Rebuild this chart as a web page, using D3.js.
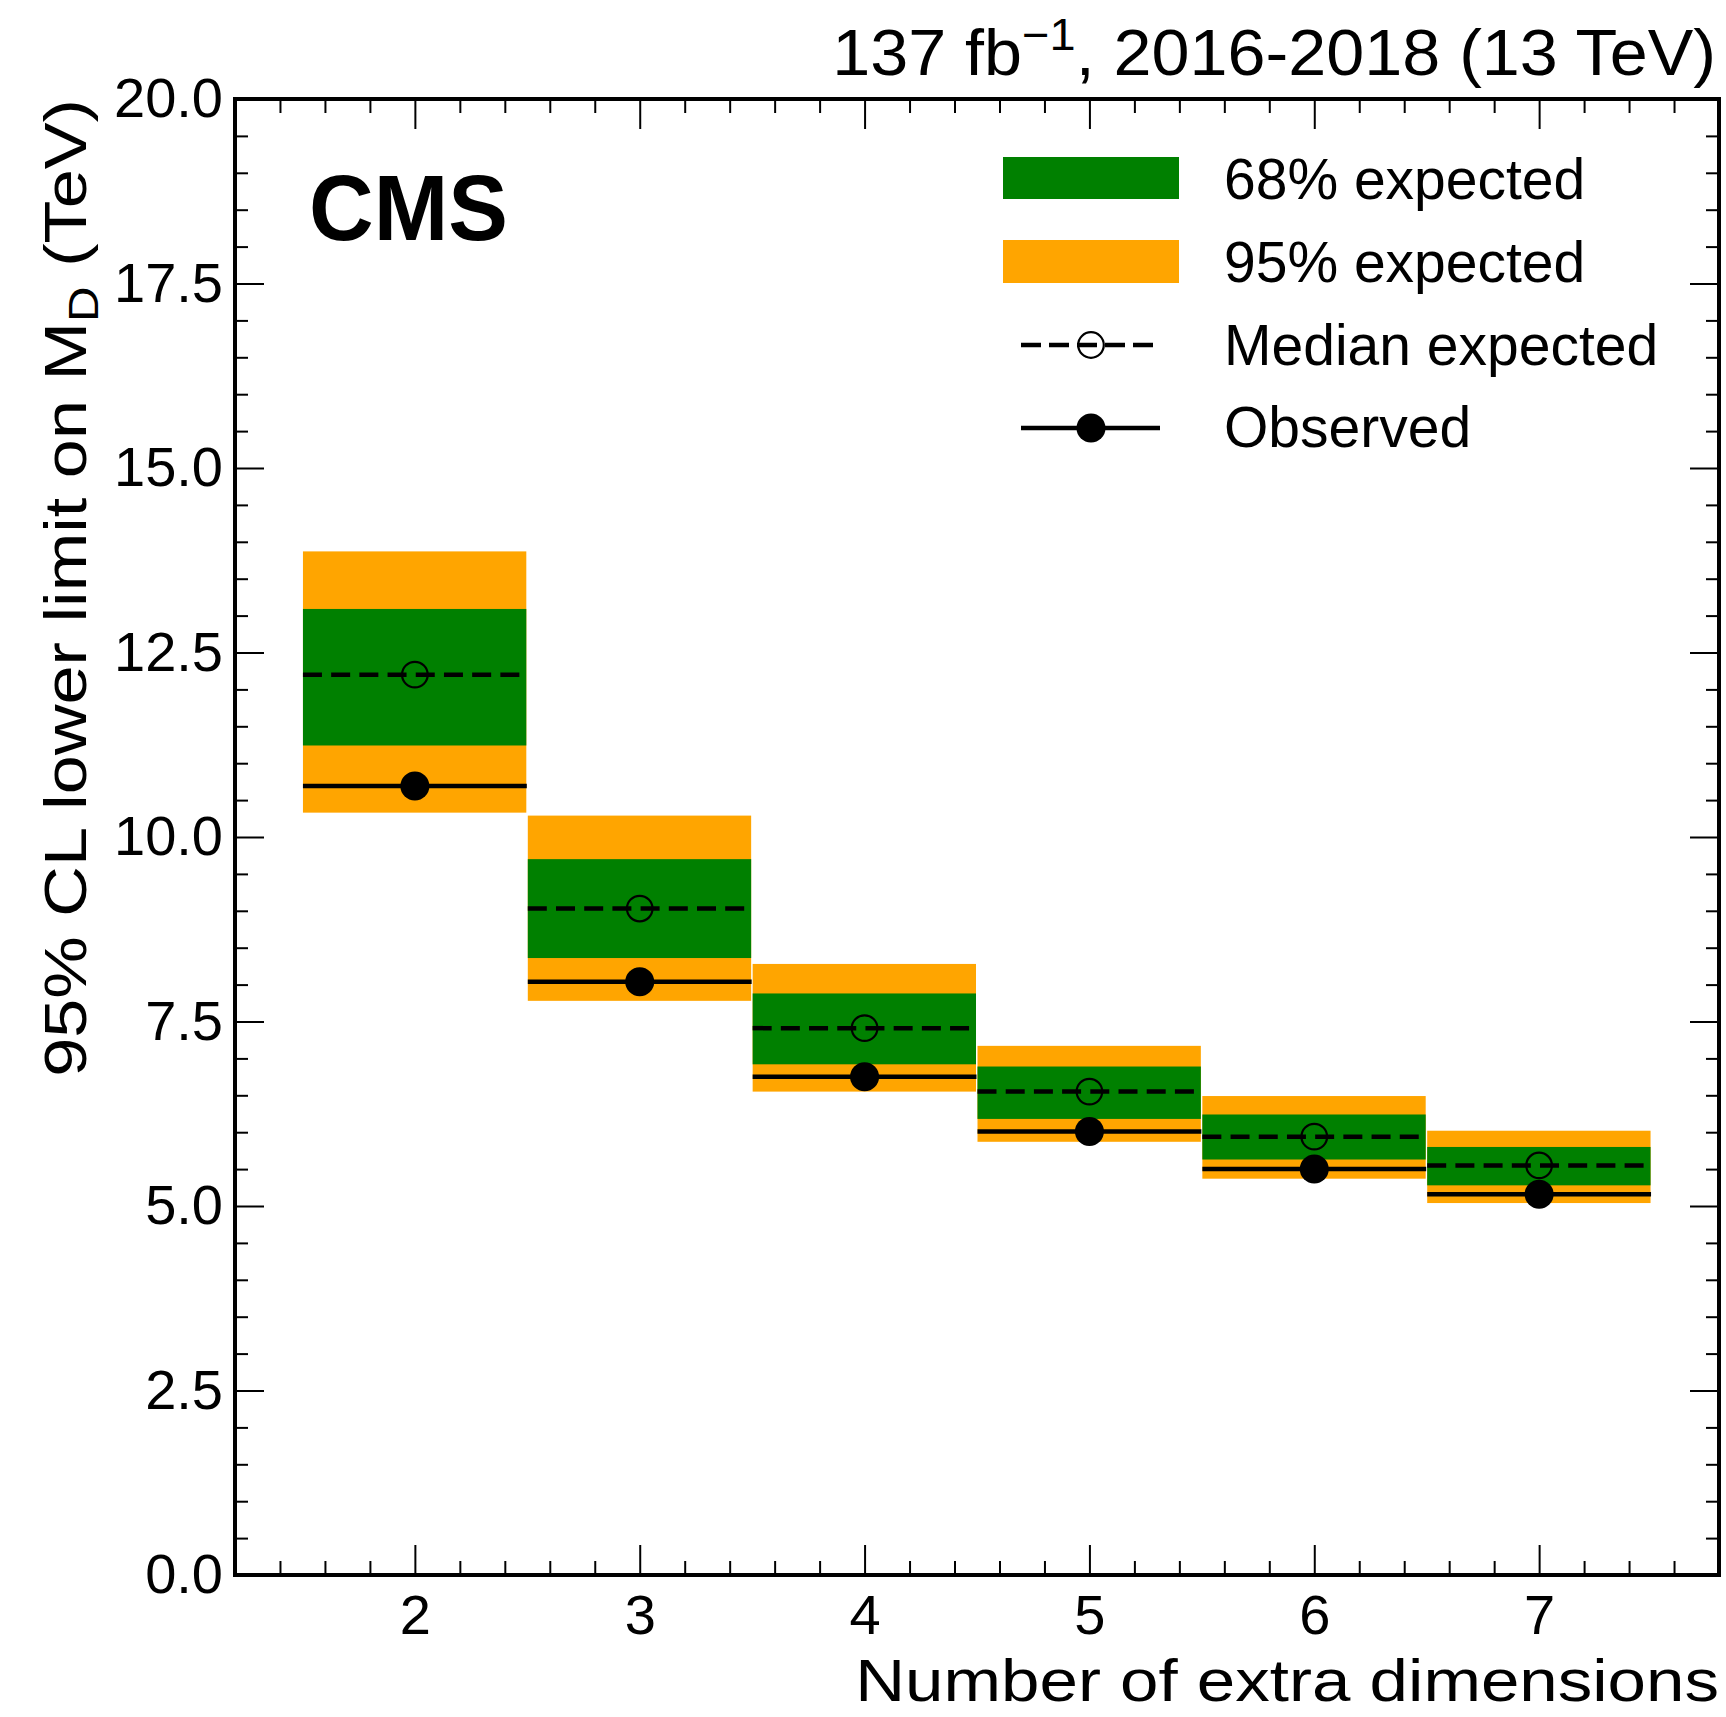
<!DOCTYPE html>
<html>
<head>
<meta charset="utf-8">
<script src="https://cdn.jsdelivr.net/npm/d3@7"></script>
<style>
  html, body { margin: 0; padding: 0; background: #fff; }
  svg { display: block; }
  text { font-family: "Liberation Sans", Arial, Helvetica, sans-serif; fill: #000; }
</style>
</head>
<body>
<svg id="chart" width="1726" height="1717"></svg>
<script>
// Number of extra dimensions (one bin per value)
const dims = [2, 3, 4, 5, 6, 7];
// 95% CL lower limits on M_D in TeV
const observed = [10.69, 8.04, 6.75, 6.01, 5.50, 5.16];
const expected = [12.20, 9.03, 7.41, 6.55, 5.94, 5.55];
const exp68Lo  = [11.24, 8.36, 6.92, 6.18, 5.63, 5.28];
const exp68Hi  = [13.09, 9.70, 7.88, 6.89, 6.24, 5.80];
const exp95Lo  = [10.33, 7.78, 6.55, 5.87, 5.37, 5.04];
const exp95Hi  = [13.87, 10.29, 8.28, 7.17, 6.49, 6.02];

// Axis ticks and labels
const xMajorTicks = [2, 3, 4, 5, 6, 7];
const yMajorTicks = [0, 2.5, 5, 7.5, 10, 12.5, 15, 17.5, 20];
const legendLabels = ["68% expected", "95% expected", "Median expected", "Observed"];

const GREEN = "#008000", ORANGE = "#ffa500";

const svg = d3.select("#chart");
svg.append("rect").attr("width", 1726).attr("height", 1717).attr("fill", "#fff");

const plotL = 235, plotR = 1719, plotT = 99, plotB = 1575;
const x = d3.scaleLinear().domain([1.2, 7.8]).range([plotL, plotR]);
const y = d3.scaleLinear().domain([0, 20]).range([plotB, plotT]);

const xMinorTicks = d3.range(14, 78, 2).map(v => v / 10).filter(v => !xMajorTicks.includes(v));
const yMinorTicks = d3.range(0, 41).map(v => v / 2).filter(v => !yMajorTicks.includes(v));

const bins = dims.map((d, i) => ({
  d, lo: d - 0.5, hi: d + 0.5,
  obs: observed[i], exp: expected[i],
  l68: exp68Lo[i], h68: exp68Hi[i], l95: exp95Lo[i], h95: exp95Hi[i]
}));

// Uncertainty bands
const bands = svg.append("g");
bands.selectAll("rect.b95").data(bins).join("rect")
  .attr("class", "b95")
  .attr("x", b => x(b.lo) + 0.5)
  .attr("width", b => x(b.hi) - x(b.lo) - 1.5)
  .attr("y", b => y(b.h95))
  .attr("height", b => y(b.l95) - y(b.h95))
  .attr("fill", ORANGE);
bands.selectAll("rect.b68").data(bins).join("rect")
  .attr("class", "b68")
  .attr("x", b => x(b.lo) + 0.5)
  .attr("width", b => x(b.hi) - x(b.lo) - 1.5)
  .attr("y", b => y(b.h68))
  .attr("height", b => y(b.l68) - y(b.h68))
  .attr("fill", GREEN);

// Median expected (dashed) and observed (solid) per bin, with markers
const lines = svg.append("g");
lines.selectAll("line.exp").data(bins).join("line")
  .attr("class", "exp")
  .attr("x1", b => x(b.lo) + 0.5).attr("x2", b => x(b.hi) - 0.5)
  .attr("y1", b => y(b.exp)).attr("y2", b => y(b.exp))
  .attr("stroke", "#000").attr("stroke-width", 4.5)
  .attr("stroke-dasharray", "19,9.2");
lines.selectAll("line.obs").data(bins).join("line")
  .attr("class", "obs")
  .attr("x1", b => x(b.lo) + 0.5).attr("x2", b => x(b.hi) - 0.5)
  .attr("y1", b => y(b.obs)).attr("y2", b => y(b.obs))
  .attr("stroke", "#000").attr("stroke-width", 4.5);

lines.selectAll("circle.exp").data(bins).join("circle")
  .attr("class", "exp")
  .attr("cx", b => x(b.d)).attr("cy", b => y(b.exp))
  .attr("r", 12.8).attr("fill", "none")
  .attr("stroke", "#000").attr("stroke-width", 2.2);
lines.selectAll("circle.obs").data(bins).join("circle")
  .attr("class", "obs")
  .attr("cx", b => x(b.d)).attr("cy", b => y(b.obs))
  .attr("r", 14.5).attr("fill", "#000");

// Axes: ticks on all four sides, pointing inward
function styleAxis(g, fontSize) {
  g.select(".domain").remove();
  g.selectAll("line").attr("stroke", "#000").attr("stroke-width", 2);
  g.attr("font-family", null).attr("font-size", fontSize);
  g.selectAll("text").attr("fill", "#000");
}
const noLabel = () => "";

svg.append("g").attr("transform", `translate(0,${plotB})`)
  .call(d3.axisBottom(x).tickValues(xMajorTicks).tickSize(-30).tickSizeOuter(0)
        .tickPadding(19).tickFormat(d3.format("d")))
  .call(g => styleAxis(g, 56));
svg.append("g").attr("transform", `translate(0,${plotB})`)
  .call(d3.axisBottom(x).tickValues(xMinorTicks).tickSize(-14).tickSizeOuter(0).tickFormat(noLabel))
  .call(g => styleAxis(g, 10));
svg.append("g").attr("transform", `translate(0,${plotT})`)
  .call(d3.axisTop(x).tickValues(xMajorTicks).tickSize(-30).tickSizeOuter(0).tickFormat(noLabel))
  .call(g => styleAxis(g, 10));
svg.append("g").attr("transform", `translate(0,${plotT})`)
  .call(d3.axisTop(x).tickValues(xMinorTicks).tickSize(-14).tickSizeOuter(0).tickFormat(noLabel))
  .call(g => styleAxis(g, 10));

svg.append("g").attr("transform", `translate(${plotL},0)`)
  .call(d3.axisLeft(y).tickValues(yMajorTicks).tickSize(-29).tickSizeOuter(0)
        .tickPadding(12).tickFormat(d3.format(".1f")))
  .call(g => styleAxis(g, 56));
svg.append("g").attr("transform", `translate(${plotL},0)`)
  .call(d3.axisLeft(y).tickValues(yMinorTicks).tickSize(-13).tickSizeOuter(0).tickFormat(noLabel))
  .call(g => styleAxis(g, 10));
svg.append("g").attr("transform", `translate(${plotR},0)`)
  .call(d3.axisRight(y).tickValues(yMajorTicks).tickSize(-29).tickSizeOuter(0).tickFormat(noLabel))
  .call(g => styleAxis(g, 10));
svg.append("g").attr("transform", `translate(${plotR},0)`)
  .call(d3.axisRight(y).tickValues(yMinorTicks).tickSize(-13).tickSizeOuter(0).tickFormat(noLabel))
  .call(g => styleAxis(g, 10));

// Frame
svg.append("rect")
  .attr("x", plotL).attr("y", plotT)
  .attr("width", plotR - plotL).attr("height", plotB - plotT)
  .attr("fill", "none").attr("stroke", "#000").attr("stroke-width", 4);

// Scale a text horizontally so its advance spans the given width
function spanWidth(sel, width) {
  const natural = sel.node().getComputedTextLength();
  sel.attr("transform", sel.attr("transform") + ` scale(${width / natural},1)`);
}

// Axis titles
const xTitle = svg.append("text")
  .attr("transform", `translate(${plotR},1701)`)
  .attr("text-anchor", "end").attr("font-size", 60)
  .text("Number of extra dimensions");
spanWidth(xTitle, 864);

const yTitle = svg.append("text")
  .attr("transform", `translate(86,${plotT}) rotate(-90)`)
  .attr("text-anchor", "end").attr("font-size", 60);
yTitle.append("tspan").text("95% CL lower limit on M");
yTitle.append("tspan").attr("font-size", 42).attr("dy", 12).text("D");
yTitle.append("tspan").attr("dy", -12).text(" (TeV)");
spanWidth(yTitle, 978);

// Header labels
const cms = svg.append("text")
  .attr("transform", "translate(309,240)")
  .attr("font-size", 93).attr("font-weight", "bold")
  .text("CMS");
spanWidth(cms, 199);

const lumi = svg.append("text")
  .attr("transform", `translate(1716,75)`)
  .attr("text-anchor", "end").attr("font-size", 64);
lumi.append("tspan").text("137 fb");
lumi.append("tspan").attr("font-size", 44).attr("dy", -25).text("\u22121");
lumi.append("tspan").attr("dy", 25).text(", 2016-2018 (13 TeV)");
spanWidth(lumi, 884);

// Legend
const legend = svg.append("g");
const legX = 1224;
legend.append("rect").attr("x", 1003).attr("y", 157).attr("width", 176).attr("height", 42).attr("fill", GREEN);
legend.append("rect").attr("x", 1003).attr("y", 240).attr("width", 176).attr("height", 43).attr("fill", ORANGE);

legend.append("line").attr("x1", 1021).attr("x2", 1155).attr("y1", 345).attr("y2", 345)
  .attr("stroke", "#000").attr("stroke-width", 4.5).attr("stroke-dasharray", "20,8");
legend.append("circle").attr("cx", 1091).attr("cy", 345).attr("r", 12.8)
  .attr("fill", "none").attr("stroke", "#000").attr("stroke-width", 2.2);
legend.append("line").attr("x1", 1021).attr("x2", 1160).attr("y1", 428).attr("y2", 428)
  .attr("stroke", "#000").attr("stroke-width", 4.5);
legend.append("circle").attr("cx", 1091).attr("cy", 428).attr("r", 14.5).attr("fill", "#000");

const legBaselines = [199, 282, 365, 447];
legend.selectAll("text.lab").data(legendLabels).join("text")
  .attr("class", "lab")
  .attr("x", legX).attr("y", (d, i) => legBaselines[i])
  .attr("font-size", 57)
  .text(d => d);
</script>
</body>
</html>
